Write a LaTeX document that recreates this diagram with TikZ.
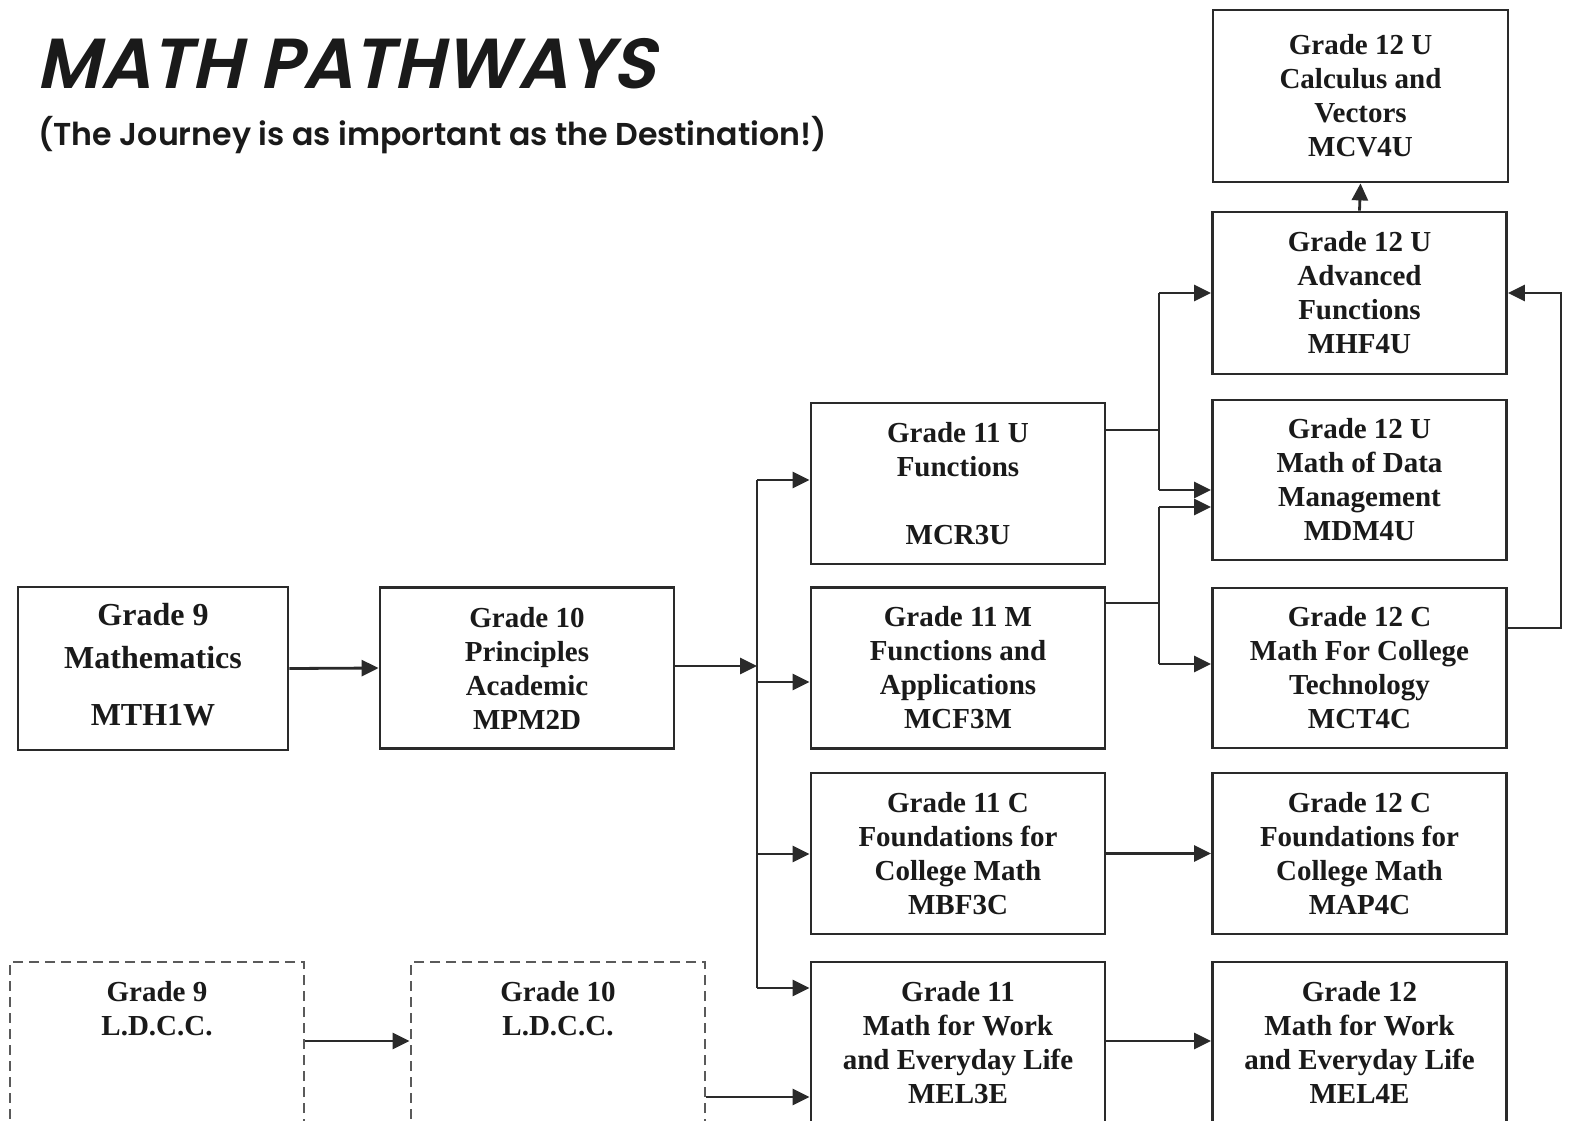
\documentclass[tikz,border=0pt]{standalone}
\usepackage{fontspec}
\usetikzlibrary{arrows.meta}
\newfontfamily\boxserif{Liberation Serif}
\newfontfamily\titlesans{Poppins}[UprightFont=* SemiBold, FakeSlant=0.22]
\newfontfamily\subsans{Poppins}[UprightFont=* SemiBold]
\definecolor{linec}{HTML}{2A2A2A}
\definecolor{txt}{HTML}{1A1A1A}
\definecolor{dashc}{HTML}{5A5A5A}
\tikzset{
  box/.style={draw=linec, line width=1.4pt, minimum width=147pt, minimum height=80.5pt,
    inner sep=0pt, align=center, text=txt, font=\boxserif\bfseries\fontsize{14.5}{17}\selectfont},
  dbox/.style={box, draw=dashc, dash pattern=on 5pt off 3pt},
  arr/.style={draw=linec, line width=1.4pt, -{Triangle[length=8.5pt,width=8pt]}},
  ln/.style={draw=linec, line width=1.4pt}
}
\begin{document}
\begin{tikzpicture}[x=0.5pt,y=-0.5pt]
\useasboundingbox (0,0) rectangle (1569,1120);
\clip (0,0) rectangle (1569,1120);
\fill[white] (0,0) rectangle (1569,1120);
% title
\node[anchor=base west, inner sep=0, text=txt, font=\titlesans\fontsize{35.4}{40}\selectfont] (title) at (36,88) {MATH PATHWAYS};
\node[anchor=base west, inner sep=0, text=txt, font=\subsans\fontsize{15.8}{18}\selectfont] (sub) at (38,145) {(The Journey is as important as the Destination!)};
% grade 9/10
\node[box, minimum width=135pt, minimum height=81.5pt] (mth) at (153,668.5) {\fontsize{16}{17}\selectfont Grade 9\\[4.5pt]\fontsize{16}{17}\selectfont Mathematics\\[11.5pt]\fontsize{16}{17}\selectfont MTH1W\\[-13pt]\mbox{}};
\node[box] (mpm) at (527,668) {Grade 10\\Principles\\Academic\\MPM2D};
% grade 11
\node[box] (mcr) at (958,483.5) {Grade 11 U\\Functions\\\mbox{}\\MCR3U};
\node[box] (mcf) at (958,668) {Grade 11 M\\Functions and\\Applications\\MCF3M};
\node[box] (mbf) at (958,853.5) {Grade 11 C\\Foundations for\\College Math\\MBF3C};
\node[box] (mel3) at (958,1042.5) {Grade 11\\Math for Work\\and Everyday Life\\MEL3E};
% grade 12
\node[box, minimum width=147.5pt, minimum height=86pt] (mcv) at (1360.5,96) {Grade 12 U\\Calculus and\\Vectors\\MCV4U};
\node[box, minimum height=81pt] (mhf) at (1359.5,293) {Grade 12 U\\Advanced\\Functions\\MHF4U};
\node[box, minimum height=80pt] (mdm) at (1359.5,480) {Grade 12 U\\Math of Data\\Management\\MDM4U};
\node[box, minimum height=80pt] (mct) at (1359.5,668) {Grade 12 C\\Math For College\\Technology\\MCT4C};
\node[box] (map) at (1359.5,853.5) {Grade 12 C\\Foundations for\\College Math\\MAP4C};
\node[box] (mel4) at (1359.5,1042.5) {Grade 12\\Math for Work\\and Everyday Life\\MEL4E};
% LDCC
\node[dbox] (l9) at (157,1042.5) {Grade 9\\L.D.C.C.\\\mbox{}\\\mbox{}};
\node[dbox] (l10) at (558,1042.5) {Grade 10\\L.D.C.C.\\\mbox{}\\\mbox{}};
% connectors
\draw[arr] (mth.east) -- (mpm.west);
\coordinate (trT) at (757,480);
\coordinate (trB) at (757,988);
\coordinate (trM) at (757,666);
\draw[arr] (mpm.east |- trM) -- (trM);
\draw[ln] (trT) -- (trB);
\draw[arr] (trT) -- (trT -| mcr.west);
\draw[arr] (757,682) coordinate (tr2) -- (tr2 -| mcf.west);
\draw[arr] (757,854) coordinate (tr3) -- (tr3 -| mbf.west);
\draw[arr] (trB) -- (trB -| mel3.west);
% grade 11 U/M branches
\coordinate (b1) at (1159,430);
\draw[ln] (mcr.east |- b1) -- (b1);
\draw[arr] (1159,293) coordinate (b1t) -- (b1t -| mhf.west);
\draw[ln] (b1t) -- (1159,490) coordinate (b1b);
\draw[arr] (b1b) -- (b1b -| mdm.west);
\coordinate (b2) at (1159,603);
\draw[ln] (mcf.east |- b2) -- (b2);
\draw[arr] (1159,507) coordinate (b2t) -- (b2t -| mdm.west);
\draw[ln] (b2t) -- (1159,664) coordinate (b2b);
\draw[arr] (b2b) -- (b2b -| mct.west);
% feedback MCT4C -> MHF4U
\coordinate (fb1) at (1561,628);
\coordinate (fb2) at (1561,293);
\draw[arr] (mct.east |- fb1) -- (fb1) -- (fb2) -- (mhf.east |- fb2);
% MHF4U -> MCV4U
\draw[arr] (mhf.north) -- (mcv.south);
\draw[arr] (mbf.east) -- (map.west);
\draw[arr] (mel3.east |- 0,1041) -- (mel4.west |- 0,1041);
\draw[arr] (l9.east |- 0,1041) -- (l10.west |- 0,1041);
\draw[arr] (l10.east |- 0,1097) -- (mel3.west |- 0,1097);
\end{tikzpicture}
\end{document}
